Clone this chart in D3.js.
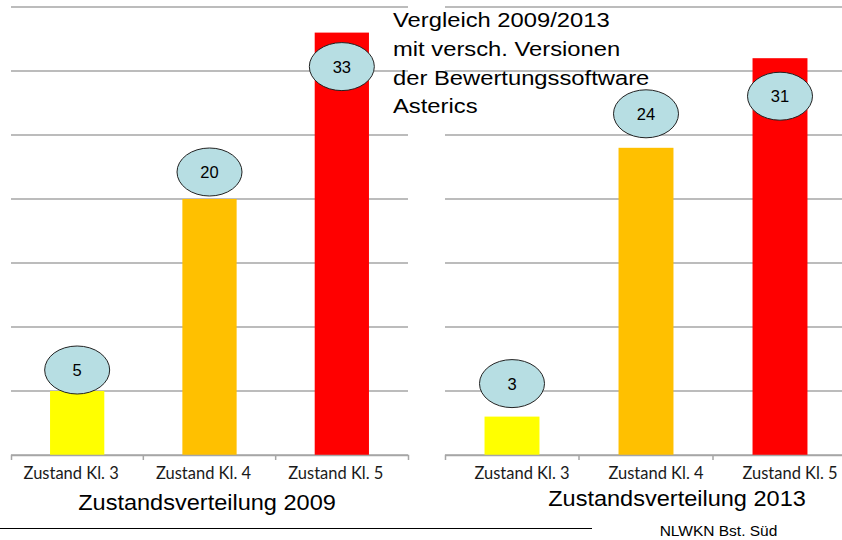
<!DOCTYPE html>
<html>
<head>
<meta charset="utf-8">
<script src="https://cdn.jsdelivr.net/npm/d3@7"></script>
<style>
  body { margin: 0; background: #fff; }
  svg { display: block; }
</style>
</head>
<body>
<script>
// chart values
const categories = ["Zustand Kl. 3", "Zustand Kl. 4", "Zustand Kl. 5"];
const values2009 = [5, 20, 33];
const values2013 = [3, 24, 31];
const barColors = ["#ffff00", "#ffc000", "#ff0000"];
const yTicks = [0, 5, 10, 15, 20, 25, 30, 35];
const titleLines = ["Vergleich 2009/2013", "mit versch. Versionen", "der Bewertungssoftware", "Asterics"];
// hand placed bubbles (px from bar top)
const labelDy2009 = [-21, -27, 34];
const labelDy2013 = [-33, -34, 38];

var width = 842, height = 540;

var svg = d3.select("body").append("svg")
    .attr("width", width)
    .attr("height", height);

var y = d3.scaleLinear()
    .domain([0, 35])
    .range([455, 7]);

var panels = [
    {values: values2009, labelDy: labelDy2009, x0: 11, x1: 408, caption: "Zustandsverteilung 2009", capX: 207, capY: 510, tickDx: -6},
    {values: values2013, labelDy: labelDy2013, x0: 445, x1: 847, caption: "Zustandsverteilung 2013", capX: 677, capY: 506, tickDx: 10}
];

panels.forEach(function(p) {
    var g = svg.append("g");

    var x = d3.scaleBand()
        .domain(categories)
        .range([p.x0, p.x1])
        .paddingInner(0.59)
        .paddingOuter(0.295);

    // gridlines
    g.selectAll(".grid")
        .data(yTicks)
        .enter().append("line")
        .attr("class", "grid")
        .attr("x1", p.x0)
        .attr("x2", p.x1)
        .attr("y1", function(d) { return y(d); })
        .attr("y2", function(d) { return y(d); })
        .attr("stroke", "#a6a6a6")
        .attr("stroke-width", 1.5);

    // bars
    g.selectAll(".bar")
        .data(p.values)
        .enter().append("rect")
        .attr("class", "bar")
        .attr("x", function(d, i) { return x(categories[i]); })
        .attr("width", x.bandwidth())
        .attr("y", function(d) { return y(d); })
        .attr("height", function(d) { return y(0) - y(d); })
        .attr("fill", function(d, i) { return barColors[i]; });

    // x axis
    var xAxis = d3.axisBottom(x).tickSize(0).tickSizeOuter(5);
    var ax = g.append("g")
        .attr("transform", "translate(0," + y(0) + ")")
        .call(xAxis);
    ax.select(".domain").attr("stroke", "#a6a6a6").attr("stroke-width", 1.5);
    ax.selectAll("text")
        .attr("y", 24)
        .attr("dy", 0)
        .attr("dx", p.tickDx)
        .attr("fill", "#1a1a1a")
        .style("font-family", "Lato, 'Open Sans', sans-serif")
        .style("font-size", "16.5px");

    // boundary ticks between categories
    g.selectAll(".btick")
        .data(categories.slice(1))
        .enter().append("line")
        .attr("class", "btick")
        .attr("x1", function(d) { return x(d) - x.step() * x.paddingInner() / 2; })
        .attr("x2", function(d) { return x(d) - x.step() * x.paddingInner() / 2; })
        .attr("y1", y(0))
        .attr("y2", y(0) + 5)
        .attr("stroke", "#a6a6a6")
        .attr("stroke-width", 1.5);

    // value bubbles
    var bub = g.selectAll(".bub")
        .data(p.values)
        .enter().append("g")
        .attr("class", "bub")
        .attr("transform", function(d, i) {
            return "translate(" + (x(categories[i]) + x.bandwidth() / 2) + "," + (y(d) + p.labelDy[i]) + ")";
        });
    bub.append("ellipse")
        .attr("rx", 32.5)
        .attr("ry", 24)
        .attr("fill", "#b7dee3")
        .attr("stroke", "#222")
        .attr("stroke-width", 1);
    bub.append("text")
        .attr("text-anchor", "middle")
        .attr("y", 6)
        .style("font-family", "'Liberation Sans', Arial, sans-serif")
        .style("font-size", "16.5px")
        .attr("fill", "#000")
        .text(function(d) { return d; });

    // caption
    svg.append("text")
        .attr("transform", "translate(" + p.capX + "," + p.capY + ") scale(1.07,1)")
        .attr("text-anchor", "middle")
        .style("font-family", "'Liberation Sans', Arial, sans-serif")
        .style("font-size", "22px")
        .attr("fill", "#000")
        .text(p.caption);
});

// title block
var title = svg.append("g")
    .attr("transform", "translate(393,0) scale(1.16,1)");
title.selectAll("text")
    .data(titleLines)
    .enter().append("text")
    .attr("x", 0)
    .attr("y", function(d, i) { return 27.3 + i * 28.7; })
    .style("font-family", "'Liberation Sans', Arial, sans-serif")
    .style("font-size", "20.5px")
    .attr("fill", "#000")
    .text(function(d) { return d; });

// footer
svg.append("line")
    .attr("x1", 0)
    .attr("x2", 592)
    .attr("y1", 528.5)
    .attr("y2", 528.5)
    .attr("stroke", "#000")
    .attr("stroke-width", 1.2);

svg.append("text")
    .attr("x", 718.5)
    .attr("y", 535.5)
    .attr("text-anchor", "middle")
    .style("font-family", "'Liberation Sans', Arial, sans-serif")
    .style("font-size", "15.5px")
    .attr("fill", "#000")
    .text("NLWKN Bst. Süd");
</script>
</body>
</html>
